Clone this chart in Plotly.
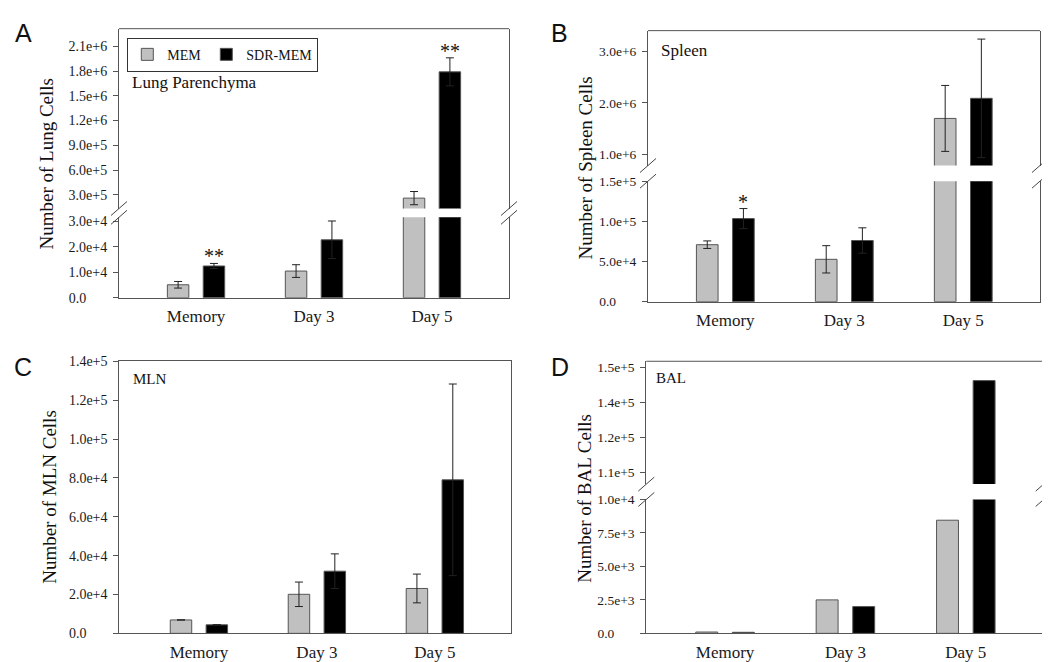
import plotly.graph_objects as go

W, H = 1050, 662

# ---------------- data ----------------
categories = ["Memory", "Day 3", "Day 5"]

lung_mem = [5.1e3, 1.05e4, 2.6e5]
lung_mem_err = [1.3e3, 2.5e3, 8.0e4]
lung_sdr = [1.25e4, 2.28e4, 1.79e6]
lung_sdr_err = [1.0e3, 7.4e3, 1.7e5]

spleen_mem = [7.09e4, 5.27e4, 1.70e6]
spleen_mem_err = [4.7e3, 1.7e4, 6.4e5]
spleen_sdr = [1.034e5, 7.61e4, 2.09e6]
spleen_sdr_err = [1.25e4, 1.58e4, 1.15e6]

mln_mem = [6.9e3, 2.01e4, 2.31e4]
mln_mem_err = [None, 6.3e3, 7.4e3]
mln_sdr = [4.4e3, 3.2e4, 7.9e4]
mln_sdr_err = [None, 8.9e3, 4.93e4]

bal_mem = [100, 2.5e3, 8.45e3]
bal_sdr = [80, 2.0e3, 1.45e5]

series_names = ["MEM", "SDR-MEM"]

# tick labels
NB = "\u00a0" * 6
lung_low_ticks = [0, 1e4, 2e4, 3e4]
lung_low_text = ["0.0" + NB, "1.0e+4", "2.0e+4", "3.0e+4"]
lung_high_ticks = [3e5, 6e5, 9e5, 1.2e6, 1.5e6, 1.8e6, 2.1e6]
lung_high_text = ["3.0e+5", "6.0e+5", "9.0e+5", "1.2e+6", "1.5e+6", "1.8e+6", "2.1e+6"]
spleen_low_ticks = [0, 5e4, 1e5, 1.5e5]
spleen_low_text = ["0.0" + NB, "5.0e+4", "1.0e+5", "1.5e+5"]
spleen_high_ticks = [1e6, 2e6, 3e6]
spleen_high_text = ["1.0e+6", "2.0e+6", "3.0e+6"]
mln_ticks = [0, 2e4, 4e4, 6e4, 8e4, 1e5, 1.2e5, 1.4e5]
mln_text = ["0.0" + NB, "2.0e+4", "4.0e+4", "6.0e+4", "8.0e+4", "1.0e+5", "1.2e+5", "1.4e+5"]
bal_low_ticks = [0, 2.5e3, 5e3, 7.5e3, 1e4]
bal_low_text = ["0.0" + NB, "2.5e+3", "5.0e+3", "7.5e+3", "1.0e+4"]
bal_high_ticks = [1.1e5, 1.2333e5, 1.3667e5, 1.5e5]
bal_high_text = ["1.1e+5", "1.2e+5", "1.4e+5", "1.5e+5"]

# ---------------- style ----------------
SERIF = "Times New Roman, Liberation Serif, serif"
SANS = "Arial, Liberation Sans, sans-serif"
GRAY = "#c0c0c0"
BLACK = "#000000"
EDGE = "#555555"
AXC = "#555555"
BAR_W = 0.182
OFF_MEM = -0.243
OFF_SDR = 0.061


def px(x):
    return x / W


def py(y):
    return 1 - y / H


fig = go.Figure()


def add_bars(xa, ya, mem, sdr, mem_err=None, sdr_err=None, legend=False):
    for name, vals, err, color, off in [
        (series_names[0], mem, mem_err, GRAY, OFF_MEM),
        (series_names[1], sdr, sdr_err, BLACK, OFF_SDR),
    ]:
        kw = {}
        if err is not None:
            kw["error_y"] = dict(type="data", array=err, visible=True,
                                 color="#222222", thickness=1, width=4)
        fig.add_trace(go.Bar(
            x=categories, y=vals, name=name, width=BAR_W, offset=off,
            marker=dict(color=color, line=dict(color=EDGE, width=1)),
            xaxis=xa, yaxis=ya, showlegend=legend, legendgroup=name, **kw))


def yaxis_cfg(dom, rng, tv, tt, anchor, fs):
    return dict(domain=[py(dom[0]), py(dom[1])], range=rng, tickvals=tv, ticktext=tt,
                anchor=anchor, showline=True, mirror=True, linecolor=AXC, linewidth=1,
                ticks="outside", ticklen=5, tickcolor=AXC, showgrid=False, zeroline=False,
                ticklabelstandoff=3,
                tickfont=dict(family=SERIF, size=fs, color="#1a1a1a"), fixedrange=True)


def xaxis_cfg(dom, rng, anchor, mirror=False):
    return dict(domain=[px(dom[0]), px(dom[1])], range=rng, anchor=anchor, type="category",
                showline=True, mirror=mirror, linecolor=AXC, linewidth=1, ticks="",
                showgrid=False, zeroline=False, ticklabelstandoff=3,
                tickfont=dict(family=SERIF, size=17, color="#1a1a1a"), fixedrange=True)


# Panel A: x / y (low) / y2 (high)
add_bars("x", "y", lung_mem, lung_sdr, lung_mem_err, lung_sdr_err, legend=True)
add_bars("x", "y2", lung_mem, lung_sdr, lung_mem_err, lung_sdr_err)
# Panel B: x2 / y3 / y4
add_bars("x2", "y3", spleen_mem, spleen_sdr, spleen_mem_err, spleen_sdr_err)
add_bars("x2", "y4", spleen_mem, spleen_sdr, spleen_mem_err, spleen_sdr_err)
# Panel C: x3 / y5
add_bars("x3", "y5", mln_mem, mln_sdr, mln_mem_err, mln_sdr_err)
# Panel D: x4 / y6 / y7
add_bars("x4", "y6", bal_mem, bal_sdr)
add_bars("x4", "y7", bal_mem, bal_sdr)

fig.update_layout(
    xaxis=xaxis_cfg([111, 501], [-0.653, 2.653], "y"),
    yaxis=yaxis_cfg([289.3, 207], [0, 31650], lung_low_ticks, lung_low_text, "x", 14),
    yaxis2=yaxis_cfg([198, 14], [1.342e5, 2.313e6], lung_high_ticks, lung_high_text, "x", 14),
    xaxis2=xaxis_cfg([640, 1032], [-0.65, 2.645], "y3"),
    yaxis3=yaxis_cfg([293.3, 170], [0, 1.5e5], spleen_low_ticks, spleen_low_text, "x2", 13.5),
    yaxis4=yaxis_cfg([154, 16], [7.86e5, 3.404e6], spleen_high_ticks, spleen_high_text, "x2", 13.5),
    xaxis3=xaxis_cfg([111.3, 503.3], [-0.675, 2.648], "y5", mirror=True),
    yaxis5=yaxis_cfg([632.7, 354.3], [0, 1.4e5], mln_ticks, mln_text, "x3", 14),
    xaxis4=xaxis_cfg([638.3, 1035.7], [-0.654, 2.647], "y6"),
    yaxis6=yaxis_cfg([632.7, 495.7], [0, 1e4], bal_low_ticks, bal_low_text, "x4", 13.5),
    yaxis7=yaxis_cfg([480, 354.3], [1.054e5, 1.524e5], bal_high_ticks, bal_high_text, "x4", 13.5),
)

shapes = []
# top frame lines for broken panels
for xa, ya in [("x", "y2"), ("x2", "y4"), ("x4", "y7")]:
    shapes.append(dict(type="line", xref=f"{xa} domain", yref=f"{ya} domain",
                       x0=0, x1=1, y0=1, y1=1, line=dict(color=AXC, width=1)))
# break marks
for xa, lo, hi in [("x", "y", "y2"), ("x2", "y3", "y4"), ("x4", "y6", "y7")]:
    for side in (0, 1):
        for ya, edge in ((lo, 1), (hi, 0)):
            shapes.append(dict(type="line", xref=f"{xa} domain", yref=f"{ya} domain",
                               xsizemode="pixel", xanchor=side, x0=-8, x1=8,
                               ysizemode="pixel", yanchor=edge, y0=-7, y1=7,
                               line=dict(color="#444444", width=1)))
fig.update_layout(shapes=shapes)

ann = []
# panel letters
for letter, x, y in [("A", 15, 18), ("B", 551, 18), ("C", 15, 360), ("D", 552, 360)]:
    ann.append(dict(text=letter, x=px(x), y=py(y), xref="paper", yref="paper",
                    xanchor="center", yanchor="middle", showarrow=False,
                    font=dict(family=SANS, size=25, color="#111111")))
# y-axis titles
for t, x, y in [("Number of Lung Cells", 39, 152),
                ("Number of Spleen Cells", 577, 157),
                ("Number of MLN Cells", 42, 493),
                ("Number of BAL Cells", 577, 495)]:
    ann.append(dict(text=t, x=px(x), y=py(y), xref="paper", yref="paper", textangle=-90,
                    xanchor="center", yanchor="middle", showarrow=False,
                    font=dict(family=SERIF, size=19, color="#111111")))
# tissue labels
for t, x, y, fs in [("Lung Parenchyma", 122, 69, 17), ("Spleen", 651, 36, 17),
                    ("MLN", 123, 372, 15), ("BAL", 646, 371, 15)]:
    ann.append(dict(text=t, x=px(x), y=py(y), xref="paper", yref="paper",
                    xanchor="left", yanchor="middle", showarrow=False,
                    font=dict(family=SERIF, size=fs, color="#111111")))
# significance stars
sdr_center = OFF_SDR + BAR_W / 2
for mark, xa, ya, idx, vals, errs in [
    ("**", "x", "y", 0, lung_sdr, lung_sdr_err),
    ("**", "x", "y2", 2, lung_sdr, lung_sdr_err),
    ("*", "x2", "y3", 0, spleen_sdr, spleen_sdr_err),
]:
    ann.append(dict(text=mark, x=idx + sdr_center, y=vals[idx] + errs[idx], xref=xa, yref=ya,
                    xanchor="center", yanchor="bottom", showarrow=False, yshift=-6,
                    font=dict(family=SERIF, size=20, color="#111111")))
fig.update_layout(annotations=ann)

fig.update_layout(
    width=W, height=H, autosize=False,
    margin=dict(l=0, r=0, t=0, b=0),
    paper_bgcolor="white", plot_bgcolor="white",
    barmode="overlay",
    showlegend=True,
    legend=dict(x=px(119.3), y=py(23.3), xanchor="left", yanchor="top",
                orientation="h", bordercolor="#333333", borderwidth=1,
                bgcolor="white", font=dict(family=SERIF, size=14, color="#111111"),
                itemclick=False, itemdoubleclick=False),
)

fig.write_html("out.html")
